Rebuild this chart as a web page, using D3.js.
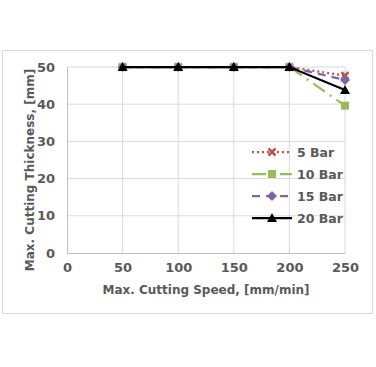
<!DOCTYPE html>
<html><head><meta charset="utf-8">
<script src="https://cdn.jsdelivr.net/npm/d3@7"></script>
<style>html,body{margin:0;padding:0;background:#fff;}</style>
</head><body>
<svg id="c" width="376" height="367"></svg>
<script>
const speeds = [50, 100, 150, 200, 250];
const bar5  = [50, 50, 50, 50, 47.7];
const bar10 = [50, 50, 50, 50, 39.6];
const bar15 = [50, 50, 50, 50, 46.5];
const bar20 = [50, 50, 50, 50, 43.8];
const seriesNames = ["5 Bar", "10 Bar", "15 Bar", "20 Bar"];
const xTicks = [0, 50, 100, 150, 200, 250];
const yTicks = [0, 10, 20, 30, 40, 50];

const series = [
  {name: seriesNames[0], values: bar5,  color: "#C0504D", dash: "2,3", marker: "x"},
  {name: seriesNames[1], values: bar10, color: "#9BBB59", dash: "14,6,2,6", marker: "square"},
  {name: seriesNames[2], values: bar15, color: "#8064A2", dash: "8,6", marker: "diamond"},
  {name: seriesNames[3], values: bar20, color: "#000000", dash: null, marker: "triangle"}
];

const svg = d3.select("#c");
const font = "Verdana, 'DejaVu Sans', sans-serif";
const grey = "#595959";

svg.append("rect").attr("x", 2.5).attr("y", 50.5).attr("width", 370).attr("height", 263)
  .attr("fill", "#fff").attr("stroke", "#d9d9d9").attr("stroke-width", 1);

const x = d3.scaleLinear().domain([0, 250]).range([67, 345]);
const y = d3.scaleLinear().domain([0, 50]).range([253, 67]);

const g = svg.append("g");
g.selectAll(".vg").data(xTicks.slice(1)).enter().append("line")
  .attr("x1", d => x(d)).attr("x2", d => x(d)).attr("y1", y(0)).attr("y2", y(50))
  .attr("stroke", "#d9d9d9").attr("stroke-width", 1);
g.selectAll(".hg").data(yTicks.slice(1)).enter().append("line")
  .attr("x1", x(0)).attr("x2", x(250)).attr("y1", d => y(d)).attr("y2", d => y(d))
  .attr("stroke", "#d9d9d9").attr("stroke-width", 1);

const xAxis = d3.axisBottom(x).tickValues(xTicks).tickSize(0).tickPadding(10);
const yAxis = d3.axisLeft(y).tickValues(yTicks).tickSize(0).tickPadding(12);
const xa = svg.append("g").attr("transform", `translate(0,${y(0)})`).call(xAxis);
const ya = svg.append("g").attr("transform", `translate(${x(0)},0)`).call(yAxis);
[xa, ya].forEach(a => {
  a.select(".domain").attr("stroke", "#bfbfbf").attr("stroke-width", 1);
  a.selectAll("text").attr("fill", grey).attr("font-family", font)
    .attr("font-size", 13).attr("font-weight", "bold");
});

svg.append("text").attr("x", 206).attr("y", 294)
  .attr("text-anchor", "middle").attr("fill", grey).attr("font-family", font)
  .attr("font-size", 12).attr("font-weight", "bold").text("Max. Cutting Speed, [mm/min]");
svg.append("text").attr("transform", `translate(34,170) rotate(-90)`)
  .attr("text-anchor", "middle").attr("fill", grey).attr("font-family", font)
  .attr("font-size", 12).attr("font-weight", "bold").text("Max. Cutting Thickness, [mm]");

function marker(sel, type, color) {
  if (type === "x") {
    sel.append("path").attr("d", "M-3.5,-3.5L3.5,3.5M-3.5,3.5L3.5,-3.5")
      .attr("stroke", color).attr("stroke-width", 2.5).attr("fill", "none");
  } else if (type === "square") {
    sel.append("rect").attr("x", -4).attr("y", -4).attr("width", 8).attr("height", 8).attr("fill", color);
  } else if (type === "diamond") {
    sel.append("path").attr("d", "M0,-5L5,0L0,5L-5,0Z").attr("fill", color);
  } else {
    sel.append("path").attr("d", "M0,-5L5,4L-5,4Z").attr("fill", color);
  }
}

const line = d3.line().x(d => x(d[0])).y(d => y(d[1]));
series.forEach(s => {
  const pts = speeds.map((v, i) => [v, s.values[i]]);
  svg.append("path").datum(pts).attr("d", line).attr("fill", "none")
    .attr("stroke", s.color).attr("stroke-width", 2.25)
    .attr("stroke-dasharray", s.dash);
  pts.forEach(p => {
    const m = svg.append("g").attr("transform", `translate(${x(p[0])},${y(p[1])})`);
    marker(m, s.marker, s.color);
  });
});

const legY = [152, 174, 196, 218];
series.forEach((s, i) => {
  const ly = legY[i];
  svg.append("line").attr("x1", 252).attr("x2", 292).attr("y1", ly).attr("y2", ly)
    .attr("stroke", s.color).attr("stroke-width", 2.25).attr("stroke-dasharray", s.dash);
  const m = svg.append("g").attr("transform", `translate(272,${ly})`);
  marker(m, s.marker, s.color);
  svg.append("text").attr("x", 297).attr("y", ly + 4.5).attr("fill", grey)
    .attr("font-family", font).attr("font-size", 12.5).attr("font-weight", "bold").text(s.name);
});
</script>
</body></html>
